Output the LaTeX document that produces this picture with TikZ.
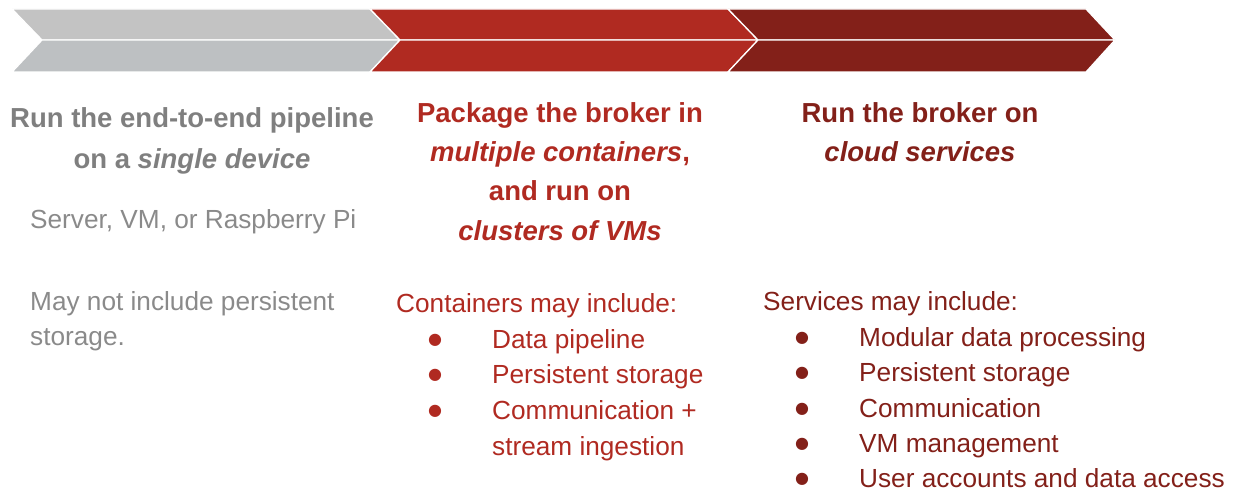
\documentclass[tikz,border=0pt]{standalone}
\usepackage{fontspec}
\setmainfont{Liberation Sans}
\newfontfamily\bulletfont{DejaVu Sans}
\definecolor{grayA}{HTML}{C3C3C3}
\definecolor{grayB}{HTML}{BDC0C2}
\definecolor{redA}{HTML}{B02A21}
\definecolor{redB}{HTML}{832019}
\definecolor{titlegray}{HTML}{7F7F7F}
\definecolor{bodygray}{HTML}{8A8A8A}
\begin{document}
\begin{tikzpicture}[x=1pt,y=-1pt,
  half/.style={draw=white,line width=1.3pt,line join=miter},
  ttl/.style={anchor=base,inner sep=0pt,font=\fontsize{27.5}{30}\selectfont\bfseries},
  body/.style={anchor=base west,inner sep=0pt,font=\fontsize{26.2}{30}\selectfont},
  bul/.style={anchor=center,inner sep=0pt,font=\bulletfont\fontsize{16}{20}\selectfont}]
\useasboundingbox (0,0) rectangle (1233,492);
% chevrons
\fill[grayA,half] (12,9) -- (370,9) -- (400,40) -- (42,40) -- cycle;
\fill[grayB,half] (42,40) -- (400,40) -- (370,72) -- (12,72) -- cycle;
\fill[redA,half] (370,9) -- (728,9) -- (758,40) -- (400,40) -- cycle;
\fill[redA,half] (400,40) -- (758,40) -- (728,72) -- (370,72) -- cycle;
\fill[redB,half] (728,9) -- (1086,9) -- (1115,40) -- (758,40) -- cycle;
\fill[redB,half] (758,40) -- (1115,40) -- (1086,72) -- (728,72) -- cycle;
% column 1
\node[ttl,text=titlegray] (t1a) at (192,128) {Run the end-to-end pipeline};
\node[ttl,text=titlegray] (t1b) at (192,168) {on a \textit{single device}};
\node[body,text=bodygray] (s1) at (30,228) {Server, VM, or Raspberry Pi};
\node[body,text=bodygray] (m1a) at (30,310) {May not include persistent};
\node[body,text=bodygray] (m1b) at (30,345) {storage.};
% column 2
\node[ttl,text=redA] (t2a) at (560,122) {Package the broker in};
\node[ttl,text=redA] (t2b) at (560,161) {\textit{multiple containers}, };
\node[ttl,text=redA] (t2c) at (560,200) {and run on};
\node[ttl,text=redA] (t2d) at (560,240) {\textit{clusters of VMs}};
\node[body,text=redA] (c2) at (396,312) {Containers may include:};
\node[bul,text=redA] (b21) at (435,340) {●};
\node[bul,text=redA] (b22) at (435,375) {●};
\node[bul,text=redA] (b23) at (435,411) {●};
\node[body,text=redA] (i21) at (492,348) {Data pipeline};
\node[body,text=redA] (i22) at (492,383) {Persistent storage};
\node[body,text=redA] (i23) at (492,419) {Communication +};
\node[body,text=redA] (i24) at (492,455) {stream ingestion};
% column 3
\node[ttl,text=redB] (t3a) at (920,122) {Run the broker on};
\node[ttl,text=redB] (t3b) at (920,161) {\textit{cloud services}};
\node[body,text=redB] (c3) at (763,310) {Services may include:};
\node[bul,text=redB] (b31) at (802,338) {●};
\node[bul,text=redB] (b32) at (802,373) {●};
\node[bul,text=redB] (b33) at (802,409) {●};
\node[bul,text=redB] (b34) at (802,444) {●};
\node[bul,text=redB] (b35) at (802,479) {●};
\node[body,text=redB] (i31) at (859,346) {Modular data processing};
\node[body,text=redB] (i32) at (859,381) {Persistent storage};
\node[body,text=redB] (i33) at (859,417) {Communication};
\node[body,text=redB] (i34) at (859,452) {VM management};
\node[body,text=redB,text depth=0pt] (i35) at (859,487) {User accounts and data access};
\end{tikzpicture}
\end{document}
